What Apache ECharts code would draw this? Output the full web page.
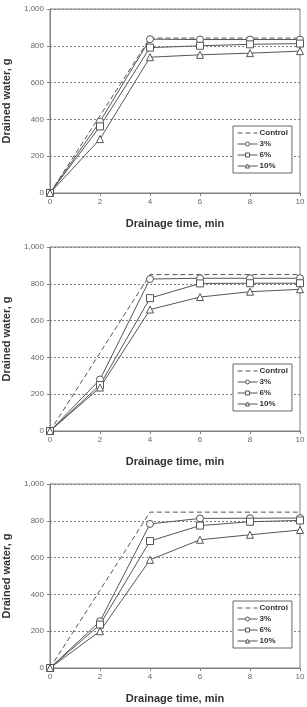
<!DOCTYPE html>
<html>
<head>
<meta charset="utf-8">
<script src="https://cdn.jsdelivr.net/npm/echarts@6/dist/echarts.min.js"></script>
<style>
  html, body { margin: 0; padding: 0; background: #fff; }
  .chart { position: absolute; left: 0; width: 307px; height: 236px; }
</style>
</head>
<body>
<div id="c1" class="chart" style="top: 0px"></div>
<div id="c2" class="chart" style="top: 238px"></div>
<div id="c3" class="chart" style="top: 475px"></div>
<script>
// drainage time (min)
const times = [0, 2, 4, 6, 8, 10]
const seriesNames = ['Control', '3%', '6%', '10%']

// panel 1
const control1 = [0, 420, 842, 842, 842, 842]
const pct3_1 = [0, 388, 836, 834, 834, 834]
const pct6_1 = [0, 362, 790, 800, 808, 812]
const pct10_1 = [0, 293, 738, 751, 760, 771]

// panel 2
const control2 = [0, 425, 850, 850, 850, 850]
const pct3_2 = [0, 280, 826, 830, 830, 830]
const pct6_2 = [0, 250, 722, 802, 803, 803]
const pct10_2 = [0, 236, 660, 728, 757, 770]

// panel 3
const control3 = [0, 423, 847, 847, 847, 847]
const pct3_3 = [0, 254, 783, 813, 814, 815]
const pct6_3 = [0, 236, 690, 774, 795, 802]
const pct10_3 = [0, 200, 588, 697, 724, 750]

const FONT = 'Liberation Sans, Arial, sans-serif'
const LINE = '#555'

function pairs(ys) {
  return times.map((t, i) => [t, ys[i]])
}

function markerSeries(name, ys, symbol, size) {
  return {
    name,
    type: 'line',
    data: pairs(ys),
    symbol,
    symbolSize: size,
    showSymbol: true,
    lineStyle: { color: LINE, width: 1 },
    itemStyle: { color: '#fff', borderColor: LINE, borderWidth: 1 }
  }
}

function buildOption(control, p3, p6, p10) {
  return {
    animation: false,
    textStyle: { fontFamily: FONT },
    grid: {
      left: 50, right: 7, top: 9, height: 184,
      outerBoundsMode: 'none',
      containLabel: false,
      show: true, borderColor: '#808080', borderWidth: 1
    },
    legend: {
      data: [
        { name: 'Control', itemStyle: { color: 'rgba(0,0,0,0)', borderWidth: 0 } },
        '3%', '6%', '10%'
      ],
      orient: 'vertical',
      left: 233, top: 126,
      padding: [3, 4],
      itemGap: 3,
      itemWidth: 20, itemHeight: 5,
      borderColor: '#666', borderWidth: 1,
      backgroundColor: '#fff',
      lineStyle: { width: 1 },
      itemStyle: { borderWidth: 1 },
      textStyle: { fontSize: 8, fontWeight: 'bold', color: '#333', fontFamily: FONT, padding: [0, 0, 0, -3] }
    },
    xAxis: {
      type: 'value', min: 0, max: 10, interval: 2,
      name: 'Drainage time, min',
      nameLocation: 'middle', nameGap: 25,
      nameTextStyle: { fontSize: 11, fontWeight: 'bold', color: '#333' },
      axisLine: { lineStyle: { color: '#808080' } },
      axisTick: { show: true, length: 3, lineStyle: { color: '#808080' } },
      axisLabel: { fontSize: 8, color: '#666', margin: 5 },
      splitLine: { show: false }
    },
    yAxis: {
      type: 'value', min: 0, max: 1000, interval: 200,
      name: 'Drained water, g',
      nameLocation: 'middle', nameGap: 38,
      nameTextStyle: { fontSize: 11, fontWeight: 'bold', color: '#333' },
      axisLine: { show: true, lineStyle: { color: '#808080' } },
      axisTick: { show: true, length: 3, lineStyle: { color: '#808080' } },
      axisLabel: {
        fontSize: 8, color: '#666', margin: 6,
        formatter: v => v >= 1000 ? v.toLocaleString('en-US') : String(v)
      },
      splitLine: { show: true, lineStyle: { color: '#808080', type: [2, 2], width: 1 } }
    },
    series: [
      {
        name: 'Control',
        type: 'line',
        data: pairs(control),
        symbol: 'none',
        lineStyle: { color: LINE, width: 1, type: [5, 3] },
        itemStyle: { color: LINE }
      },
      markerSeries('3%', p3, 'circle', 7),
      markerSeries('6%', p6, 'rect', 7),
      markerSeries('10%', p10, 'triangle', 7)
    ]
  }
}

function initChart(id, option) {
  const chart = echarts.init(document.getElementById(id))
  chart.setOption(option)
  return chart
}

initChart('c1', buildOption(control1, pct3_1, pct6_1, pct10_1))
initChart('c2', buildOption(control2, pct3_2, pct6_2, pct10_2))
initChart('c3', buildOption(control3, pct3_3, pct6_3, pct10_3))
</script>
</body>
</html>
